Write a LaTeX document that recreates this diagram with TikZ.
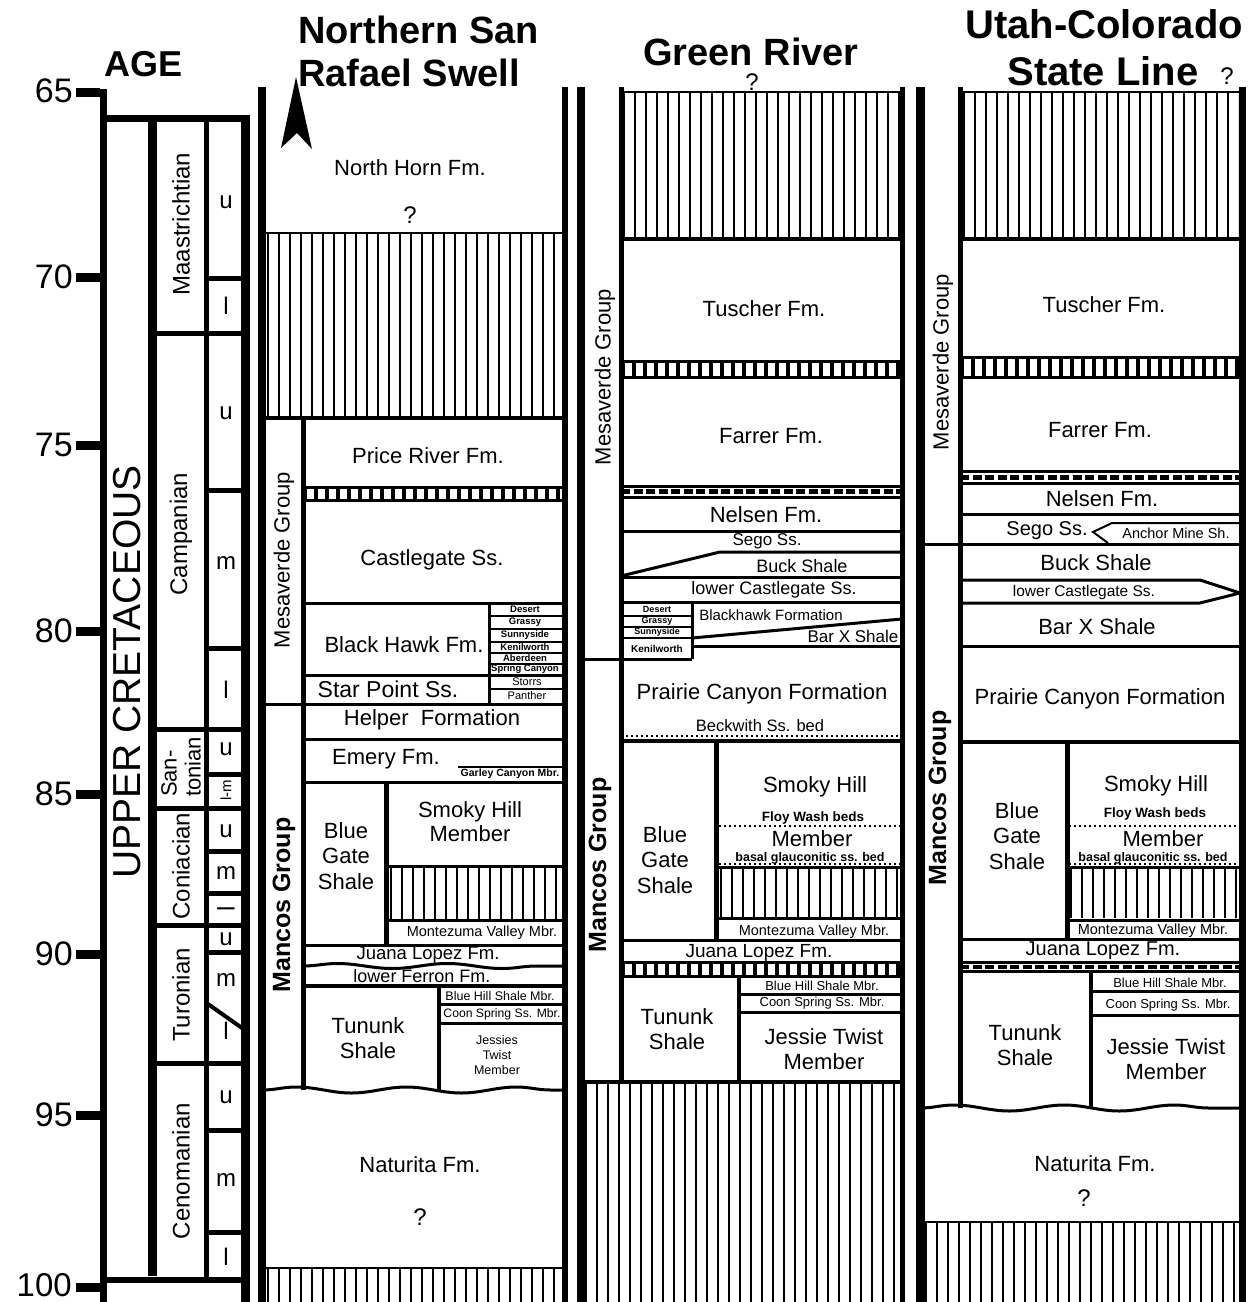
\documentclass[tikz,border=0pt]{standalone}
\usepackage{fontspec}
\setmainfont{Liberation Sans}
\usetikzlibrary{decorations.pathmorphing}
\newcommand{\vh}[4]{\draw[line width=#4pt, dash pattern=on 2pt off 9pt] (#1,#3) -- (#2,#3);}
\newcommand{\ladder}[4]{\draw[line width=#4pt, dash pattern=on 4pt off 7pt] (#1,#3) -- (#2,#3);}
\newcommand{\dband}[4]{\draw[line width=#4pt, dash pattern=on 9pt off 3.5pt] (#1,#3) -- (#2,#3);}
\begin{document}
\begin{tikzpicture}[x=1pt,y=-1pt,
  lab/.style={inner sep=0pt, align=center},
  fs/.style 2 args={font=\fontsize{#1}{#2}\selectfont},
  fb/.style 2 args={font=\fontsize{#1}{#2}\selectfont\bfseries},
  rot/.style={rotate=90},
  bxl/.style={line width=3pt},
  mdl/.style={line width=5pt},
  thl/.style={line width=8pt},
  hair/.style={line width=1.5pt},
  thin2/.style={line width=2pt},
  dotl/.style={line width=2pt, dash pattern=on 1.5pt off 3.5pt},
  wave/.style={line width=3pt, decorate, decoration={snake, amplitude=#1, segment length=110pt}},
  wave/.default=3pt,
  line join=miter]
\useasboundingbox (0,0) rectangle (1252,1302);
\fill[white] (0,0) rectangle (1252,1302);

% ================= AGE COLUMN =================
\draw[line width=7pt] (76,92) -- (103.5,92) -- (103.5,1302);
\draw[line width=9pt] (76,92) -- (100,92);
\foreach \y in {277,445,631,794,954,1115,1287} \draw[line width=9pt] (76,\y) -- (101,\y);
\node[lab, fs={34}{40}, anchor=east] (a65) at (73,91) {65};
\node[lab, fs={34}{40}, anchor=east] (a70) at (73,277) {70};
\node[lab, fs={34}{40}, anchor=east] (a75) at (73,445) {75};
\node[lab, fs={34}{40}, anchor=east] (a80) at (73,631) {80};
\node[lab, fs={34}{40}, anchor=east] (a85) at (73,794) {85};
\node[lab, fs={34}{40}, anchor=east] (a90) at (73,954) {90};
\node[lab, fs={34}{40}, anchor=east] (a95) at (73,1115) {95};
\node[lab, fs={33}{38}, anchor=east] (a100) at (72,1285) {100};
\node[lab, fb={36}{40}] (tAge) at (144,64) {AGE};

\draw[line width=7pt] (103,118.5) -- (249,118.5);
\draw[line width=9pt] (245,115) -- (245,1302);
\draw[line width=9pt] (152,118) -- (152,1276);
\draw[mdl] (206,118) -- (206,1280);
\draw[line width=6pt] (103,1280) -- (249,1280);
\foreach \y in {333,729,808,925,1063} \draw[mdl] (152,\y) -- (245,\y);
\foreach \y in {278,490,648,774,851,893,952,1130,1232} \draw[mdl] (206,\y) -- (245,\y);
\draw[line width=4pt] (208,1004) -- (242,1028);

\node[lab, fs={39}{44}, rot] (era) at (127,672) {UPPER CRETACEOUS};
\node[lab, fs={24}{28}, rot] (sMa) at (181,224) {Maastrichtian};
\node[lab, fs={24}{28}, rot] (sCa) at (181,534) {Campanian};
\node[lab, fs={22}{24}, rot, align=left] (sSa) at (181,767) {San-\\tonian};
\node[lab, fs={24}{28}, rot] (sCo) at (181,866) {Coniacian};
\node[lab, fs={24}{28}, rot] (sTu) at (181,995) {Turonian};
\node[lab, fs={24}{28}, rot] (sCe) at (181,1171) {Cenomanian};
\foreach \y/\t [count=\i] in {202/u,306/l,413/u,563/m,690/l,749/u,831/u,873/m,939/u,980/m,1031/l,1097/u,1180/m,1257/l}
  \node[lab, fs={24}{28}] (ss\i) at (226,\y) {\t};
\node[lab, fs={24}{28}, rot] (sscl) at (226,909) {l};
\node[lab, fs={15}{18}, rot] (sslm) at (226,790) {l-m};

% ================= TITLES =================
\node[lab, fb={38}{44}, anchor=base west] (tN1) at (298,43) {Northern San};
\node[lab, fb={38}{44}, anchor=base west] (tN2) at (298,86) {Rafael Swell};
\node[lab, fb={38}{44}, anchor=base] (tG) at (751,65) {Green River};
\node[lab, fb={40}{44}, anchor=base] (tU1) at (1104,38) {Utah-Colorado};
\node[lab, fb={40}{44}, anchor=base] (tU2) at (1103,85) {State Line};
\node[lab, fs={24}{28}] (qU) at (1227,76) {?};
\node[lab, fs={24}{28}] (qG) at (752,82) {?};

% ================= COLUMN 1: NORTHERN SAN RAFAEL SWELL =================
\draw[thl] (262,87) -- (262,1302);
\draw[line width=6pt] (565,87) -- (565,1302);
\fill (296,77) -- (312,149) -- (297,133) -- (281,148) -- cycle;
\node[lab, fs={22}{26}] (n1NH) at (410,168) {North Horn Fm.};
\node[lab, fs={24}{28}] (n1q1) at (410,215) {?};
\vh{267}{562}{325.5}{185}
\draw[hair] (262,233) -- (565,233);
\draw[line width=4pt] (262,418) -- (565,418);
\draw[mdl] (303,418) -- (303,1090);
\draw[bxl] (262,704) -- (303,704);
\node[lab, fs={22}{26}, rot] (n1MV) at (284,560) {Mesaverde Group};
\node[lab, fb={25}{28}, rot] (n1MC) at (284,905) {Mancos Group};

\draw[bxl] (303,487) -- (565,487);
\ladder{303}{562}{493.5}{12}
\draw[bxl] (303,500) -- (565,500);
\draw[bxl] (303,603) -- (565,603);
\draw[bxl] (303,675.5) -- (565,675.5);
\draw[bxl] (303,704) -- (565,704);
\draw[bxl] (303,739) -- (565,739);
\draw[bxl] (303,782) -- (565,782);
\draw[bxl] (489.5,603) -- (489.5,704);
\foreach \y in {616,629,642,653,664,689} \draw[thin2] (489.5,\y) -- (565,\y);
\draw[hair] (458,767) -- (562,767);

\node[lab, fs={22}{26}] (n1PR) at (428,456) {Price River Fm.};
\node[lab, fs={22}{26}] (n1CG) at (432,560) {Castlegate Ss.};
\node[lab, fs={22}{26}] (n1BH) at (404,645) {Black Hawk Fm.};
\node[lab, fb={9.5}{11}] (n1De) at (525,609.5) {Desert};
\node[lab, fb={9.5}{11}] (n1Gr) at (525,622.5) {Grassy};
\node[lab, fb={9.5}{11}] (n1Su) at (525,635.5) {Sunnyside};
\node[lab, fb={9.5}{11}] (n1Ke) at (525,647.5) {Kenilworth};
\node[lab, fb={9.5}{11}] (n1Ab) at (525,658.5) {Aberdeen};
\node[lab, fb={9.5}{11}] (n1Sc) at (525,669.5) {Spring Canyon};
\node[lab, fs={23}{26}] (n1SP) at (388,689) {Star Point Ss.};
\node[lab, fs={11}{13}] (n1St) at (527,682) {Storrs};
\node[lab, fs={11}{13}] (n1Pa) at (527,696) {Panther};
\node[lab, fs={22}{26}] (n1He) at (432,720) {Helper\ \ Formation};
\node[lab, fs={22}{26}] (n1Em) at (386,759) {Emery Fm.};
\node[lab, fb={10.5}{12}] (n1GC) at (510,774) {Garley Canyon Mbr.};

\draw[mdl] (386,782) -- (386,945);
\draw[bxl] (386,866) -- (565,866);
\vh{390}{562}{893}{52}
\draw[bxl] (386,920.5) -- (565,920.5);
\draw[bxl] (303,945) -- (565,945);
\draw[wave=2.5pt] (303,966) -- (565,966);
\draw[line width=4pt] (303,986) -- (565,986);
\draw[line width=4pt] (438.5,986) -- (438.5,1090);
\draw[bxl] (438.5,1004.5) -- (565,1004.5);
\draw[bxl] (438.5,1023.5) -- (565,1023.5);
\draw[wave] (262,1090) -- (565,1090);
\vh{267}{562}{1285}{34}
\draw[hair] (262,1268) -- (565,1268);

\node[lab, fs={22}{25.5}] (n1BG) at (346,856) {Blue\\Gate\\Shale};
\node[lab, fs={22}{24}] (n1SH) at (470,822) {Smoky Hill\\Member};
\node[lab, fs={14.5}{17}] (n1MZ) at (482,933) {Montezuma Valley Mbr.};
\node[lab, fs={18.5}{22}] (n1JL) at (428,955.5) {Juana Lopez Fm.};
\node[lab, fs={18}{22}] (n1LF) at (422,976) {lower Ferron Fm.};
\node[lab, fs={22}{25.5}] (n1TS) at (368,1038) {Tununk\\Shale};
\node[lab, fs={12.5}{14}] (n1BHS) at (500,996) {Blue Hill Shale Mbr.};
\node[lab, fs={12.2}{14}] (n1CS) at (502,1014) {Coon Spring Ss. Mbr.};
\node[lab, fs={12.5}{15}] (n1JT) at (497,1055) {Jessies\\Twist\\Member};
\node[lab, fs={22}{26}] (n1NF) at (420,1165) {Naturita Fm.};
\node[lab, fs={24}{28}] (n1q2) at (420,1217) {?};

% ================= COLUMN 2: GREEN RIVER =================
\draw[thl] (581,87) -- (581,1302);
\draw[mdl] (621,87) -- (621,1082);
\draw[mdl] (902,87) -- (902,1302);
\vh{623}{900}{165}{146}
\draw[hair] (621,92) -- (902,92);
\draw[line width=4pt] (621,239) -- (902,239);
\draw[bxl] (621,361) -- (902,361);
\ladder{621}{902}{369}{14}
\draw[bxl] (621,377) -- (902,377);
\draw[bxl] (621,486) -- (902,486);
\dband{621}{902}{491.5}{5}
\draw[bxl] (621,497) -- (902,497);
\draw[bxl] (621,531) -- (902,531);
\draw[bxl] (621,577) -- (902,577);
\draw[bxl] (621,576) -- (720,552) -- (902,552);
\draw[bxl] (621,602) -- (902,602);
\draw[bxl] (692,602) -- (692,659);
\foreach \y in {616,627,638} \draw[thin2] (621,\y) -- (692,\y);
\draw[bxl] (581,659) -- (692,659);
\draw[bxl] (692,638) -- (902,619);
\draw[bxl] (692,646.5) -- (902,646.5);
\draw[dotl] (621,736) -- (902,736);
\draw[line width=4pt] (621,740.5) -- (902,740.5);

\node[lab, fs={22}{26}, rot] (n2MV) at (605,377) {Mesaverde Group};
\node[lab, fb={25}{28}, rot] (n2MC) at (600,865) {Mancos Group};
\node[lab, fs={22}{26}] (n2TU) at (764,309) {Tuscher Fm.};
\node[lab, fs={22}{26}] (n2FA) at (771,436) {Farrer Fm.};
\node[lab, fs={22}{26}] (n2NE) at (766,515) {Nelsen Fm.};
\node[lab, fs={17}{20}] (n2SE) at (767,541) {Sego Ss.};
\node[lab, fs={18}{21}] (n2BU) at (802,566) {Buck Shale};
\node[lab, fs={18}{21}] (n2LC) at (774,590) {lower Castlegate Ss.};
\node[lab, fb={9}{10}] (n2De) at (657,609.5) {Desert};
\node[lab, fb={9}{10}] (n2Gr) at (657,621.5) {Grassy};
\node[lab, fb={9}{10}] (n2Su) at (657,632.5) {Sunnyside};
\node[lab, fb={10}{12}] (n2Ke) at (657,648.5) {Kenilworth};
\node[lab, fs={15}{18}] (n2BF) at (771,615) {Blackhawk Formation};
\node[lab, fs={17}{20}] (n2BX) at (853,636) {Bar X Shale};
\node[lab, fs={22}{26}] (n2PC) at (762,694) {Prairie Canyon Formation};
\node[lab, fs={16.5}{19}] (n2BW) at (760,726) {Beckwith Ss. bed};

\draw[mdl] (716.5,740) -- (716.5,940);
\draw[dotl] (719,826) -- (902,826);
\draw[dotl] (719,864) -- (902,864);
\draw[bxl] (716,867.5) -- (902,867.5);
\vh{720}{900}{892}{50}
\draw[bxl] (716,918) -- (902,918);
\draw[bxl] (621,940.5) -- (902,940.5);
\draw[bxl] (621,962) -- (902,962);
\ladder{621}{902}{969}{12}
\draw[bxl] (621,976) -- (902,976);
\draw[line width=4pt] (739,976) -- (739,1082);
\draw[bxl] (739,994.5) -- (902,994.5);
\draw[bxl] (739,1012.5) -- (902,1012.5);
\draw[line width=4pt] (581,1082) -- (902,1082);
\vh{585}{900}{1193}{220}

\node[lab, fs={22}{25.5}] (n2BG) at (665,860) {Blue\\Gate\\Shale};
\node[lab, fs={22}{26}] (n2SH) at (815,787) {Smoky Hill};
\node[lab, fb={13.5}{16}] (n2FW) at (813,818) {Floy Wash beds};
\node[lab, fs={22}{26}] (n2ME) at (812,839) {Member};
\node[lab, fb={12.5}{15}] (n2BA) at (810,858.5) {basal glauconitic ss. bed};
\node[lab, fs={14.5}{17}] (n2MZ) at (814,932) {Montezuma Valley Mbr.};
\node[lab, fs={19}{22}] (n2JL) at (759,953) {Juana Lopez Fm.};
\node[lab, fs={13}{15}] (n2BHS) at (822,986) {Blue Hill Shale Mbr.};
\node[lab, fs={13}{15}] (n2CS) at (822,1003) {Coon Spring Ss. Mbr.};
\node[lab, fs={22}{25.5}] (n2TS) at (677,1029) {Tununk\\Shale};
\node[lab, fs={22}{25.5}] (n2JT) at (824,1049) {Jessie Twist\\Member};

% ================= COLUMN 3: UTAH-COLORADO STATE LINE =================
\draw[line width=9pt] (920,87) -- (920,1302);
\draw[mdl] (960,87) -- (960,1108);
\draw[line width=7pt] (1242,87) -- (1242,1302);
\vh{963}{1238}{165}{146}
\draw[hair] (960,92) -- (1242,92);
\draw[line width=4pt] (960,239) -- (1242,239);
\draw[bxl] (960,357) -- (1242,357);
\ladder{960}{1242}{367}{18}
\draw[bxl] (960,377) -- (1242,377);
\draw[bxl] (960,471) -- (1242,471);
\dband{960}{1242}{477}{5}
\draw[bxl] (960,483.5) -- (1242,483.5);
\draw[bxl] (960,514.5) -- (1242,514.5);
\draw[line width=2pt] (1242,523) -- (1112,523) -- (1093,532) -- (1108,543);
\draw[bxl] (920,544.5) -- (1242,544.5);
\draw[bxl] (960,580) -- (1200,580) -- (1240,593) -- (1200,603) -- (960,603);
\draw[bxl] (960,646) -- (1242,646);
\draw[line width=4pt] (960,741.5) -- (1242,741.5);

\node[lab, fs={22}{26}, rot] (n3MV) at (943,362) {Mesaverde Group};
\node[lab, fb={25}{28}, rot] (n3MC) at (940,798) {Mancos Group};
\node[lab, fs={22}{26}] (n3TU) at (1104,305) {Tuscher Fm.};
\node[lab, fs={22}{26}] (n3FA) at (1100,430) {Farrer Fm.};
\node[lab, fs={22}{26}] (n3NE) at (1102,499) {Nelsen Fm.};
\node[lab, fs={20}{24}] (n3SE) at (1047,531) {Sego Ss.};
\node[lab, fs={14.5}{17}] (n3AM) at (1176,533) {Anchor Mine Sh.};
\node[lab, fs={22}{26}] (n3BU) at (1096,563) {Buck Shale};
\node[lab, fs={15.5}{18}] (n3LC) at (1084,592) {lower Castlegate Ss.};
\node[lab, fs={22}{26}] (n3BX) at (1097,627) {Bar X Shale};
\node[lab, fs={22}{26}] (n3PC) at (1100,699) {Prairie Canyon Formation};

\draw[mdl] (1067,741) -- (1067,940);
\draw[dotl] (1069,826) -- (1242,826);
\draw[dotl] (1069,864) -- (1242,864);
\draw[bxl] (1067,867.5) -- (1242,867.5);
\vh{1070}{1238}{893}{50}
\draw[bxl] (1067,920) -- (1242,920);
\draw[bxl] (960,939.5) -- (1242,939.5);
\draw[bxl] (960,962) -- (1242,962);
\dband{960}{1242}{966.5}{4}
\draw[bxl] (960,971.5) -- (1242,971.5);
\draw[line width=4pt] (1091,971.5) -- (1091,1108);
\draw[bxl] (1091,991.5) -- (1242,991.5);
\draw[bxl] (1091,1015) -- (1242,1015);
\draw[wave] (920,1108) -- (1242,1108);
\draw[hair] (920,1222) -- (1242,1222);
\vh{925}{1240}{1262}{80}

\node[lab, fs={22}{25.5}] (n3BG) at (1017,836) {Blue\\Gate\\Shale};
\node[lab, fs={22}{26}] (n3SH) at (1156,786) {Smoky Hill};
\node[lab, fb={13.5}{16}] (n3FW) at (1155,814) {Floy Wash beds};
\node[lab, fs={22}{26}] (n3ME) at (1163,839) {Member};
\node[lab, fb={12.5}{15}] (n3BA) at (1153,858.5) {basal glauconitic ss. bed};
\node[lab, fs={14.5}{17}] (n3MZ) at (1153,931) {Montezuma Valley Mbr.};
\node[lab, fs={20}{23}] (n3JL) at (1103,951) {Juana Lopez Fm.};
\node[lab, fs={13}{15}] (n3BHS) at (1170,983) {Blue Hill Shale Mbr.};
\node[lab, fs={13}{15}] (n3CS) at (1168,1005) {Coon Spring Ss. Mbr.};
\node[lab, fs={22}{25.5}] (n3TS) at (1025,1045) {Tununk\\Shale};
\node[lab, fs={22}{25.5}] (n3JT) at (1166,1059) {Jessie Twist\\Member};
\node[lab, fs={22}{26}] (n3NF) at (1095,1164) {Naturita Fm.};
\node[lab, fs={24}{28}] (n3q) at (1084,1198) {?};
\end{tikzpicture}
\end{document}
